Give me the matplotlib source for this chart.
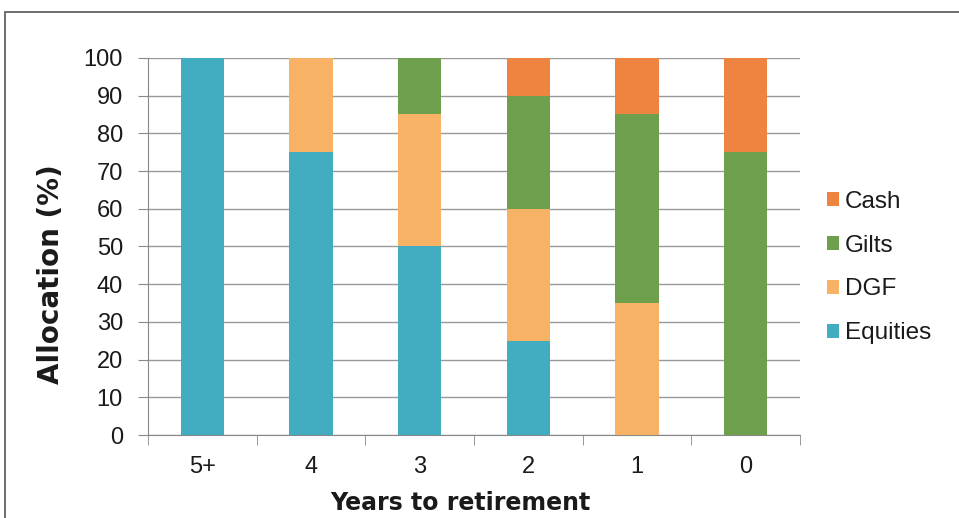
import matplotlib.pyplot as plt
import numpy as np
from matplotlib.patches import Rectangle

plt.rcParams['font.family'] = ['Liberation Sans', 'DejaVu Sans']

years = ['5+', '4', '3', '2', '1', '0']
equities = [100, 75, 50, 25, 0, 0]
dgf = [0, 25, 35, 35, 35, 0]
gilts = [0, 0, 15, 30, 50, 75]
cash = [0, 0, 0, 10, 15, 25]

series = [
    ('Equities', equities, '#42adc0'),
    ('DGF', dgf, '#f8b266'),
    ('Gilts', gilts, '#6e9f4c'),
    ('Cash', cash, '#ef8440'),
]

fig = plt.figure(figsize=(9.59, 5.18), dpi=100)
ax = fig.add_axes([0.1543, 0.1602, 0.680, 0.728])

# outer chart frame
fig.patches.append(Rectangle((0.005, -0.05), 1.2, 1.027, transform=fig.transFigure,
                             fill=False, edgecolor='#555555', linewidth=1.2))

x = np.arange(len(years))
bottom = np.zeros(len(years))
handles = []
for name, vals, color in series:
    vals = np.array(vals, dtype=float)
    b = ax.bar(x, vals, width=0.4, bottom=bottom, color=color, label=name, zorder=3)
    handles.append(b)
    bottom += vals

ax.set_xlim(-0.5, len(years) - 0.5)
ax.set_ylim(0, 100)
ax.set_yticks(range(0, 101, 10))
ax.set_xticks(x)
ax.set_xticklabels(years)
ax.set_xticks(np.arange(-0.5, len(years), 1.0), minor=True)
ax.tick_params(axis='x', which='major', length=0, pad=15, labelsize=17, labelcolor='#1a1a1a')
ax.tick_params(axis='x', which='minor', length=7, color='#888888', direction='out')
ax.tick_params(axis='y', length=7, color='#888888', labelsize=17, pad=11, labelcolor='#1a1a1a')
ax.grid(axis='y', color='#999999', linewidth=1.0, zorder=0)

for side in ['top', 'right']:
    ax.spines[side].set_visible(False)
ax.spines['left'].set_color('#888888')
ax.spines['bottom'].set_color('#888888')

ax.set_xlabel('Years to retirement', fontsize=17, fontweight='bold',
              family='DejaVu Sans', color='#1a1a1a')
ax.set_ylabel('Allocation (%)', fontsize=20, fontweight='bold',
              family='DejaVu Sans', color='#1a1a1a')
ax.xaxis.set_label_coords(0.4785, -0.1485)
ax.yaxis.set_label_coords(-0.128, 0.427)

leg = fig.legend(handles[::-1], [s[0] for s in series][::-1], loc='center left',
                 bbox_to_anchor=(0.862, 0.4836), frameon=False, fontsize=17.5,
                 handlelength=0.5, handleheight=0.5, handletextpad=0.25,
                 labelspacing=0.9, borderpad=0, borderaxespad=0)
for t in leg.get_texts():
    t.set_color('#1a1a1a')

fig.savefig('out.png', dpi=100)
